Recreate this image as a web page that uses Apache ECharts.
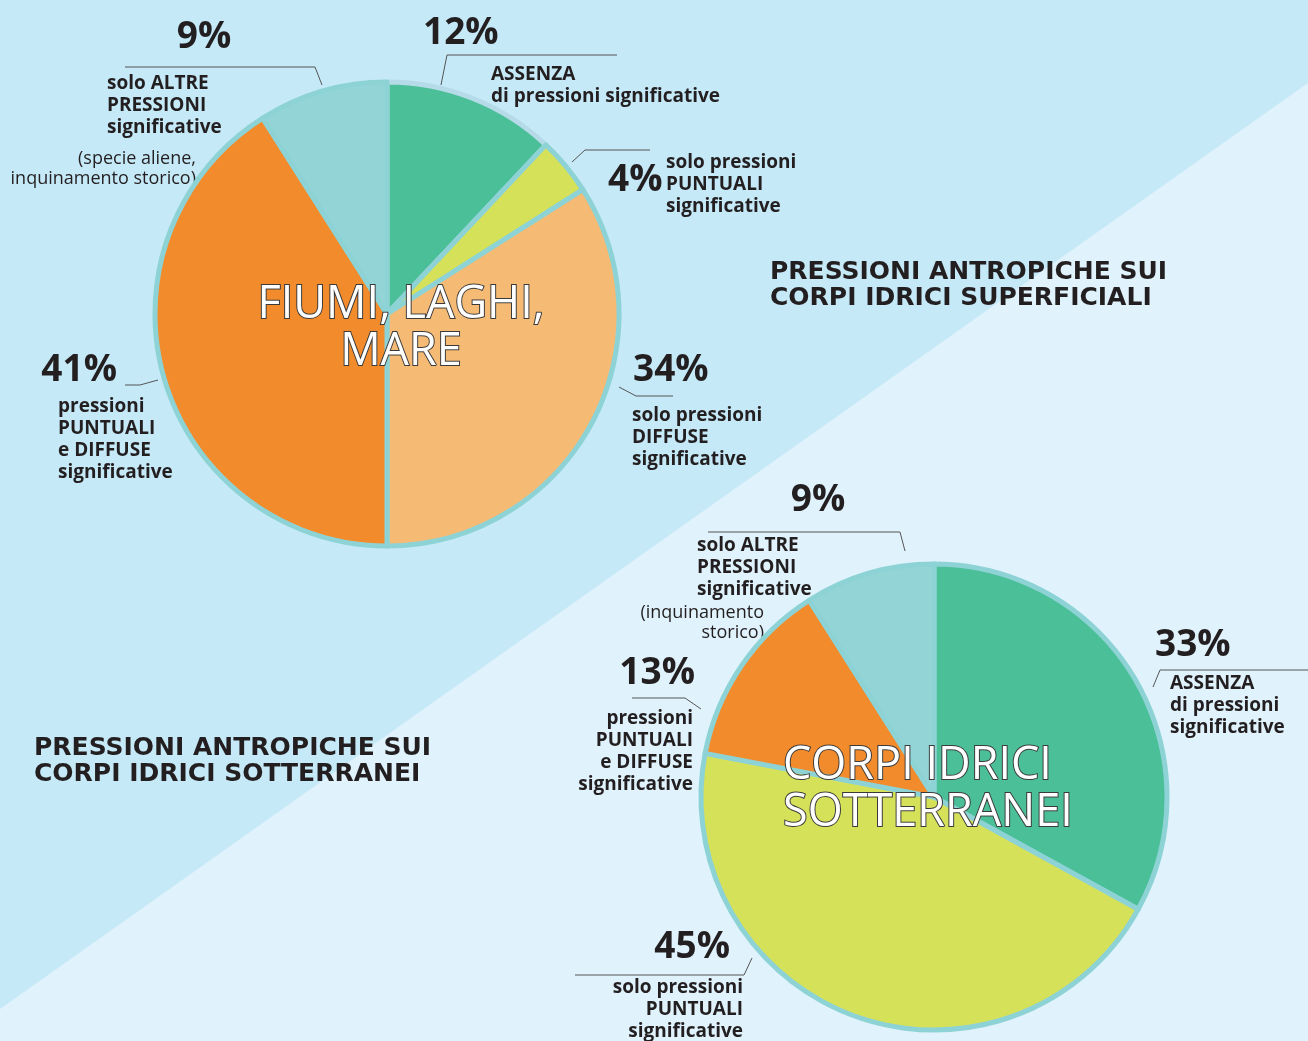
<!DOCTYPE html>
<html>
<head>
<meta charset="utf-8">
<script src="https://cdn.jsdelivr.net/npm/echarts@6/dist/echarts.min.js"></script>
<style>
    html, body { margin: 0; padding: 0; background: #e0f2fc; }
    #main { width: 1308px; height: 1041px; }
</style>
</head>
<body>
<div id="main"></div>
<script>
// corpi idrici superficiali (fiumi, laghi, mare)
const surfNames = ['ASSENZA', 'solo PUNTUALI', 'solo DIFFUSE', 'PUNTUALI e DIFFUSE', 'solo ALTRE']
const surfValues = [12, 4, 34, 41, 9]
const surfText = [
    'ASSENZA\ndi pressioni significative',
    'solo pressioni\nPUNTUALI\nsignificative',
    'solo pressioni\nDIFFUSE\nsignificative',
    'pressioni\nPUNTUALI\ne DIFFUSE\nsignificative',
    'solo ALTRE\nPRESSIONI\nsignificative'
]
const surfNotes = ['', '', '', '', '(specie aliene,\ninquinamento storico)']

// corpi idrici sotterranei
const groundNames = ['ASSENZA', 'solo PUNTUALI', 'PUNTUALI e DIFFUSE', 'solo ALTRE']
const groundValues = [33, 45, 13, 9]
const groundText = [
    'ASSENZA\ndi pressioni\nsignificative',
    'solo pressioni\nPUNTUALI\nsignificative',
    'pressioni\nPUNTUALI\ne DIFFUSE\nsignificative',
    'solo ALTRE\nPRESSIONI\nsignificative'
]
const groundNotes = ['', '', '', '(inquinamento\nstorico)']

const ink = '#231f20'
const ring = '#8dd3d6'

// where each annotation goes (pct anchor, text anchor, note anchor, leader line)
const surfLayout = [
    { px: 423, py: 33, pa: 'left', tx: 491, ty: 75, ta: 'left', line: [[441, 85], [447, 55], [617, 55]] },
    { px: 608, py: 180, pa: 'left', tx: 666, ty: 163, ta: 'left', line: [[572, 162], [585, 150], [650, 150]] },
    { px: 633, py: 370, pa: 'left', tx: 632, ty: 416, ta: 'left', line: [[619, 387], [636, 396], [673, 396]] },
    { px: 117, py: 370, pa: 'right', tx: 58, ty: 407, ta: 'left', line: [[125, 385], [140, 385], [158, 380]] },
    { px: 204, py: 37, pa: 'center', tx: 107, ty: 84, ta: 'left', nx: 196, ny: 159, line: [[125, 67], [315, 67], [322, 85]] }
]
const groundLayout = [
    { px: 1155, py: 645, pa: 'left', tx: 1170, ty: 684, ta: 'left', line: [[1153, 687], [1160, 670], [1308, 670]] },
    { px: 730, py: 947, pa: 'right', tx: 743, ty: 988, ta: 'right', line: [[575, 975], [744, 975], [752, 958]] },
    { px: 695, py: 673, pa: 'right', tx: 693, ty: 719, ta: 'right', line: [[632, 698], [685, 698], [701, 709]] },
    { px: 818, py: 500, pa: 'center', tx: 697, ty: 546, ta: 'left', nx: 764, ny: 613, line: [[708, 532], [900, 532], [905, 551]] }
]

function buildLabels(values, texts, notes, layout) {
    let els = []
    values.forEach((v, i) => {
        let p = layout[i]
        els.push({
            type: 'text',
            style: {
                text: v + '%', x: p.px, y: p.py, align: p.pa, verticalAlign: 'middle',
                fill: ink, fontFamily: 'Open Sans', fontWeight: 'bold', fontSize: 37
            }
        })
        els.push({
            type: 'text',
            style: {
                text: texts[i], x: p.tx, y: p.ty - 11, align: p.ta, verticalAlign: 'top',
                fill: ink, fontFamily: 'Open Sans', fontWeight: 'bold', fontSize: 19, lineHeight: 22
            }
        })
        if (notes[i]) {
            els.push({
                type: 'text',
                style: {
                    text: notes[i], x: p.nx, y: p.ny - 10, align: 'right', verticalAlign: 'top',
                    fill: ink, fontFamily: 'Open Sans', fontSize: 18, lineHeight: 20
                }
            })
        }
        els.push({
            type: 'polyline',
            shape: { points: p.line },
            style: { stroke: '#555', lineWidth: 1, fill: null }
        })
    })
    return els
}

function centerText(text, x, y, align) {
    return {
        type: 'text',
        z: 100,
        style: {
            text: text, x: x, y: y, align: align, verticalAlign: 'middle',
            fill: '#fff', stroke: '#3a3a3a', lineWidth: 2,
            fontFamily: 'Open Sans', fontSize: 45, lineHeight: 47
        }
    }
}

const myChart = echarts.init(document.getElementById('main'))

const option = {
    backgroundColor: '#e0f2fc',
    animation: false,
    graphic: [
        {
            type: 'polygon',
            z: -10,
            shape: { points: [[0, 0], [1308, 0], [1308, 83], [0, 1009]] },
            style: { fill: '#c6e9f8' }
        },
        {
            type: 'text',
            style: {
                text: 'PRESSIONI ANTROPICHE SUI\nCORPI IDRICI SUPERFICIALI', x: 770, y: 259,
                fill: ink, fontFamily: 'DejaVu Sans', fontWeight: 'bold', fontSize: 25, lineHeight: 26
            }
        },
        {
            type: 'text',
            style: {
                text: 'PRESSIONI ANTROPICHE SUI\nCORPI IDRICI SOTTERRANEI', x: 34, y: 735,
                fill: ink, fontFamily: 'DejaVu Sans', fontWeight: 'bold', fontSize: 25, lineHeight: 26
            }
        },
        ...buildLabels(surfValues, surfText, surfNotes, surfLayout),
        ...buildLabels(groundValues, groundText, groundNotes, groundLayout),
        centerText('FIUMI, LAGHI,\nMARE', 401, 329, 'center'),
        centerText('CORPI IDRICI\nSOTTERRANEI', 783, 790, 'left')
    ],
    series: [
        {
            name: 'superficiali',
            type: 'pie',
            center: [387, 314],
            radius: [0, 232],
            startAngle: 90,
            silent: true,
            label: { show: false },
            labelLine: { show: false },
            itemStyle: { borderColor: ring, borderWidth: 5 },
            color: ['#4bbf97', '#d6e15a', '#f5bb74', '#f28b2b', '#93d5d7'],
            data: surfValues.map((val, i) => {
                let item = { value: val, name: surfNames[i] }
                if (i === 0) item.itemStyle = { borderColor: '#b5dbe8' }
                return item
            })
        },
        {
            name: 'sotterranei',
            type: 'pie',
            center: [934, 797],
            radius: [0, 233],
            startAngle: 90,
            silent: true,
            label: { show: false },
            labelLine: { show: false },
            itemStyle: { borderColor: ring, borderWidth: 5 },
            color: ['#4bbf97', '#d6e15a', '#f28b2b', '#93d5d7'],
            data: groundValues.map((val, i) => {
                return { value: val, name: groundNames[i] }
            })
        }
    ]
}

myChart.setOption(option)
</script>
</body>
</html>
